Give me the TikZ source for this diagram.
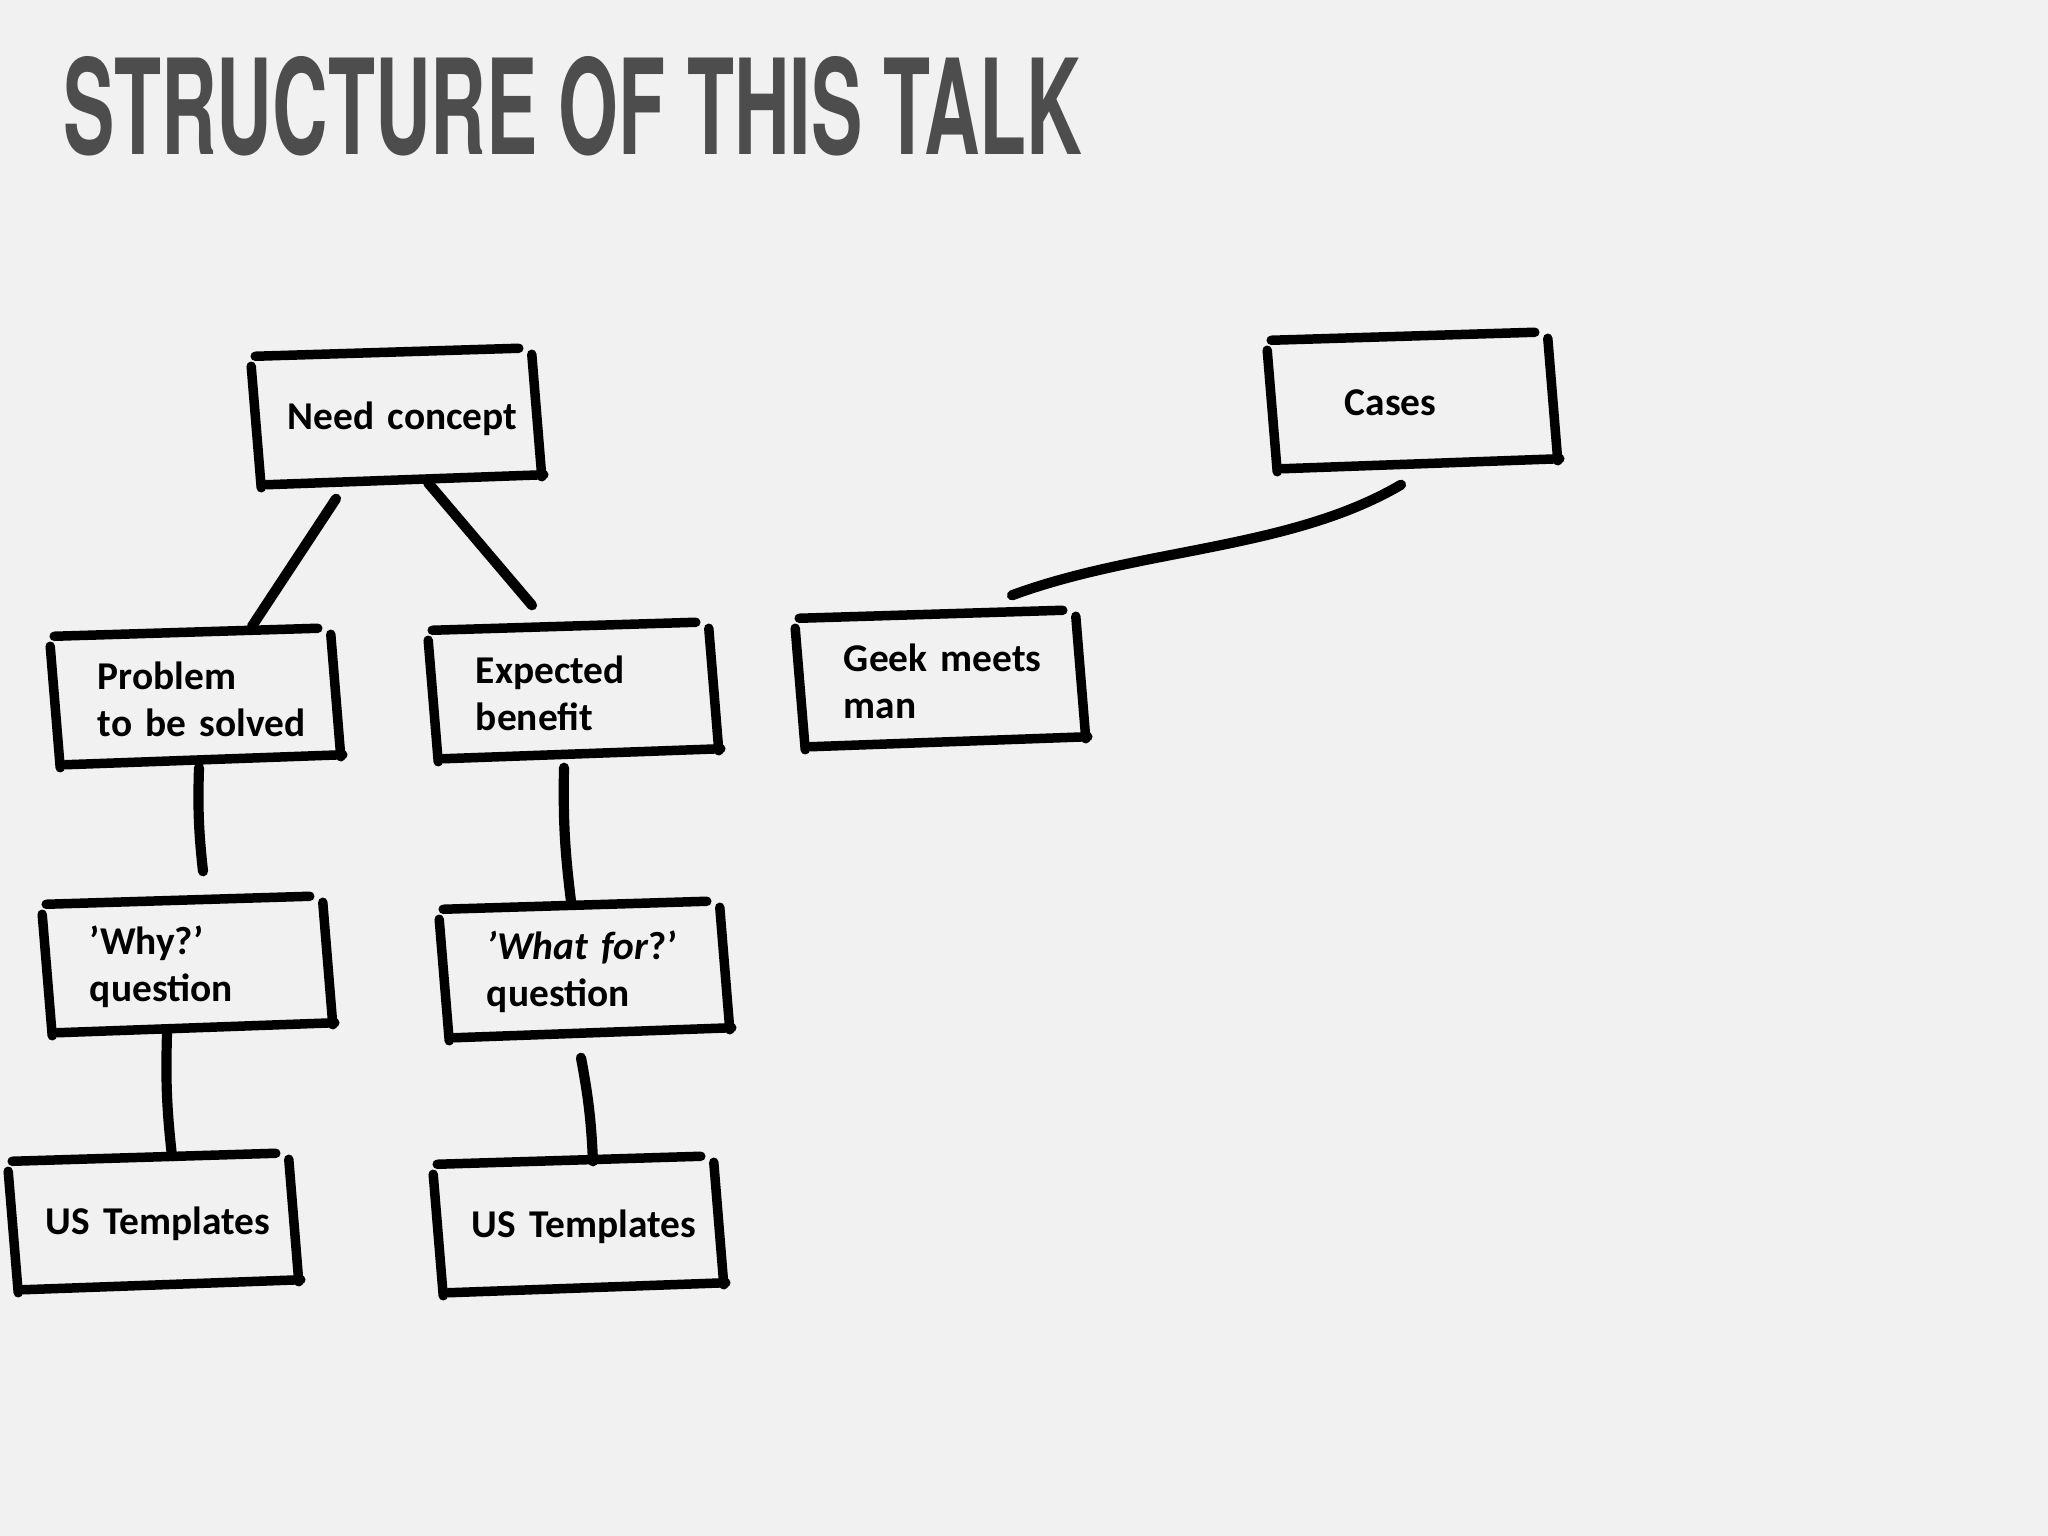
\documentclass[tikz,border=0pt]{standalone}
\usepackage{fontspec}
\usepackage{graphicx}
\setmainfont{Carlito}
\newfontfamily\titrefont{TeX Gyre Heros}
\definecolor{fond}{HTML}{F1F1F1}
\definecolor{titre}{HTML}{4D4D4D}

\begin{document}
\begin{tikzpicture}[x=0.01cm,y=-0.01cm]
\tikzstyle{lien}=[line width=2.9pt,line cap=round]
\tikzstyle{trait}=[line width=2.7pt,line cap=round]
\tikzset{cadre/.style={minimum width=2.8cm,minimum height=1.28cm,
text width=2.8cm,inner xsep=0pt,align=left,
font=\bfseries\fontsize{11.2}{13.4}\selectfont,
execute at begin node={\leftskip=#1}},
cadre/.default={0.43cm}}

\fill[fond] (0,0) rectangle (2048,1536);
\node[anchor=south west,inner sep=0pt,text=titre] (T) at (63,157)
{\resizebox{10.18cm}{0.98cm}{\titrefont\bfseries STRUCTURE OF THIS TALK}};

\node[cadre=0.32cm] (A) at (396,419) {Need concept};
\node[cadre] (A1) at (195,699) {Problem\\to be solved};
\node[cadre] (A2) at (573,693) {Expected\\benefit};
\node[cadre] (A11) at (187,967) {’Why?’\\question};
\node[cadre] (A21) at (584,972) {\textit{’What for}?’\\question};
\node[cadre=0.33cm] (A111) at (153,1224) {US Templates};
\node[cadre=0.34cm] (A211) at (578,1227) {US Templates};
\node[cadre=0.73cm] (B) at (1412,403) {Cases};
\node[cadre=0.44cm] (B1) at (940,681) {Geek meets\\man};

\foreach \n in {A,A1,A2,A11,A21,A111,A211,B,B1}{
\draw[trait] ([shift={(0,2)}]\n.north west) -- ([shift={(-18,-6)}]\n.north east);
\draw[trait] ([shift={(-4,12)}]\n.north west) -- ([shift={(6,4)}]\n.south west);
\draw[trait] ([shift={(-5,0)}]\n.north east) -- ([shift={(5,-7)}]\n.south east);
\draw[trait] ([shift={(11,1)}]\n.south west) -- ([shift={(7,-9)}]\n.south east);
}

\draw[lien] ([shift={(-60,15)}]A.south) -- ([shift={(57,-8)}]A1.north);
\draw[lien] ([shift={(32,-1)}]A.south) -- ([shift={(-41,-23)}]A2.north);
\draw[lien] ([shift={(4,4)}]A1.south) to[bend right=4] ([shift={(16,-31)}]A11.north);
\draw[lien] ([shift={(-9,10)}]A2.south) to[bend right=4] ([shift={(-13,-6)}]A21.north);
\draw[lien] ([shift={(-20,2)}]A11.south) to[bend right=4] ([shift={(19,-3)}]A111.north);
\draw[lien] ([shift={(-3,21)}]A21.south) to[bend left=4] ([shift={(15,-1)}]A211.north);
\draw[lien] ([shift={(-11,17)}]B.south) .. controls (1290,550) and (1140,548) .. ([shift={(72,-21)}]B1.north);

\end{tikzpicture}
\end{document}
